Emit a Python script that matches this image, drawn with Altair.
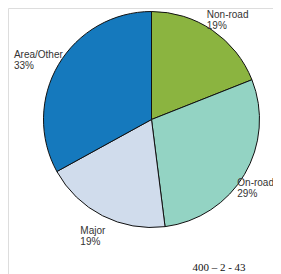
import altair as alt
import pandas as pd

categories = ["Non-road", "On-road", "Major", "Area/Other"]
shares = [19, 29, 19, 33]
colors = ["#8BB440", "#93D3C3", "#D0DCEC", "#1579BD"]
footer_text = ["400 \u2013 2 - 43"]

df = pd.DataFrame({"name": categories, "share": shares, "idx": list(range(len(categories)))})

W, H = 265, 266
CX, CY, R = 143.5, 111.5, 108
# label ring (centre and radii, in plot pixels); anchor is the first line
LCX, LCY, LRX, LRY = 145, 111, 132, 126
CHAR_W = 5.1

base = alt.Chart(df)

pie = base.mark_arc(outerRadius=R, stroke="#111111", strokeWidth=1).encode(
    theta=alt.Theta("share:Q", stack=True),
    order=alt.Order("idx:Q"),
    color=alt.Color("name:N", scale=alt.Scale(domain=categories, range=colors), legend=None),
    x=alt.value(CX),
    y=alt.value(CY),
)

labels = base.transform_window(
    cum="sum(share)", sort=[alt.SortField("idx")], frame=[None, 0]
).transform_joinaggregate(
    total="sum(share)"
).transform_calculate(
    a="2*PI*(datum.cum - datum.share/2)/datum.total",
    tw=f"{CHAR_W}*length(datum.name)",
).transform_calculate(
    px=f"min({LCX} + {LRX}*sin(datum.a) - datum.tw/2, {W} - datum.tw)",
    py=f"{LCY} - {LRY}*cos(datum.a)",
    lbl="datum.name + '\\n' + datum.share + '%'",
).mark_text(
    align="left", baseline="middle", lineBreak="\n", fontSize=10, lineHeight=11,
    font="Liberation Sans", color="#333333",
).encode(
    x=alt.X("px:Q", scale=None),
    y=alt.Y("py:Q", scale=None),
    text="lbl:N",
)

footer = alt.Chart(pd.DataFrame({"t": footer_text})).mark_text(
    align="center", baseline="middle", fontSize=11, font="Liberation Serif", color="#111111"
).encode(text="t:N", x=alt.value(211), y=alt.value(260))

chart = alt.layer(pie, labels, footer).properties(
    width=W, height=H, padding=0, autosize=alt.AutoSizeParams(type="none")
).configure_view(stroke=None).configure(background="white")

chart.save("out.html", embed_options={"renderer": "svg", "actions": False})
